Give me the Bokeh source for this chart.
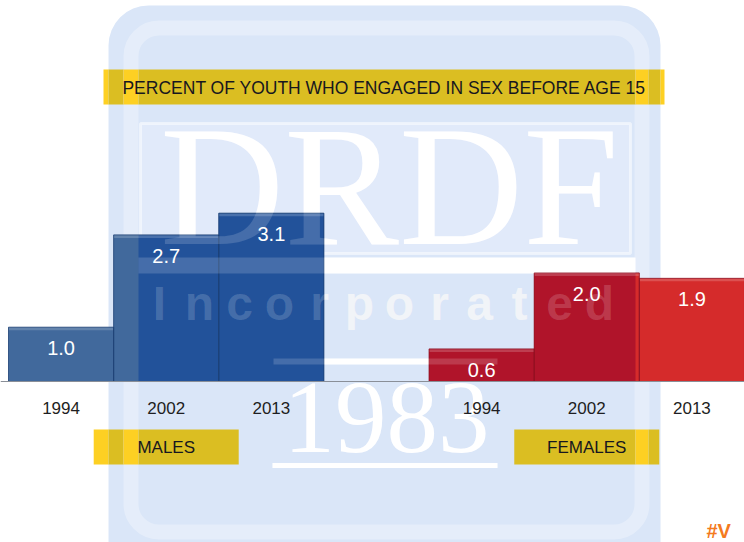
import numpy as np
from bokeh.plotting import figure
from bokeh.models import Range1d, BoxAnnotation, ColumnDataSource
from bokeh.core.properties import value
from bokeh.embed import file_html
from bokeh.resources import INLINE

# ---------------- data ----------------
years = ["1994", "2002", "2013"]
male_values = [1.0, 2.7, 3.1]
female_values = [0.6, 2.0, 1.9]
group_names = ["MALES", "FEMALES"]
title_text = "PERCENT OF YOUTH WHO ENGAGED IN SEX BEFORE AGE 15"
watermark_word = "DRDF"
watermark_sub = "Incorporated"
watermark_year = "1983"
corner_tag = "#V"

# ---------------- layout (page pixels) ----------------
W, H = 744, 542
ORIGIN_X = 8          # page x of the left edge of the first bar slot
SLOT_PX = 105.14      # width of one bar slot
UNIT_PX = 54.3        # pixels per 1 percent
BASE_PX = 381         # page y of the zero line
GAP_SLOTS = 1         # empty slot between the groups
BEVEL_PX = 3          # lighter rim at the top of each bar

FONT = value("Liberation Sans")
SERIF = value("Liberation Serif")

x_start = -ORIGIN_X / SLOT_PX
x_end = (W - ORIGIN_X) / SLOT_PX
y_top = BASE_PX / UNIT_PX
y_bot = -(H - BASE_PX) / UNIT_PX

p = figure(width=W, height=H, x_range=Range1d(x_start, x_end), y_range=Range1d(y_bot, y_top),
           output_backend="svg", toolbar_location=None, x_axis_type=None, y_axis_type=None,
           min_border=0, outline_line_color=None, background_fill_color="white",
           border_fill_color="white")
p.extra_x_ranges = {"px": Range1d(0, W)}
p.extra_y_ranges = {"py": Range1d(H, 0)}
PX = dict(x_range_name="px", y_range_name="py")

def to_px(x):
    return ORIGIN_X + x * SLOT_PX

def to_data(px):
    return (px - ORIGIN_X) / SLOT_PX

# ---------------- watermark (background part) ----------------
WM_BG = "#dae6f8"
p.add_layout(BoxAnnotation(left=108, right=660, top=5, bottom=600, fill_color=WM_BG, fill_alpha=1,
                           line_color=None, border_radius=40, level="underlay", **PX))
p.add_layout(BoxAnnotation(left=130.5, right=641.5, top=27.5, bottom=531.5, fill_alpha=0,
                           line_color="white", line_width=15, border_radius=28,
                           level="underlay", **PX))

p.quad(left=[140], right=[630], top=[123], bottom=[253], fill_color="#e1eafa",
       line_color="white", line_alpha=0.5, line_width=3, **PX)

def draw_watermark(alpha, sub_color):
    p.text(x=[389], y=[185], text=[watermark_word], text_font=SERIF, text_font_size="172px",
           text_color="white", text_alpha=alpha, text_align="center",
           text_baseline="middle", **PX)
    p.quad(left=[138], right=[635], top=[257], bottom=[273], fill_color="white",
           fill_alpha=alpha, line_color=None, **PX)
    letters = list(watermark_sub)
    lx = 159 + 40 * np.arange(len(letters))
    p.text(x=lx, y=[303] * len(letters), text=letters, text_font=FONT, text_font_style="bold",
           text_font_size="48px", text_color=sub_color, text_alpha=alpha, text_align="center",
           text_baseline="middle", **PX)
    p.segment(x0=[273, 272], y0=[361, 465], x1=[497, 497], y1=[361, 465],
              line_color="white", line_width=[6, 5], line_alpha=alpha, **PX)
    p.text(x=[386], y=[417], text=[watermark_year], text_font=SERIF, text_font_size="103px",
           text_color="white", text_alpha=alpha, text_align="center",
           text_baseline="middle", **PX)

draw_watermark(1.0, "#eff2f7")

# ---------------- bars ----------------
male_slots = np.arange(len(years))
female_slots = np.arange(len(years)) + len(years) + GAP_SLOTS
xs = np.concatenate([male_slots, female_slots]) + 0.5
tops = np.array(male_values + female_values)
labels = [f"{v:.1f}" for v in tops]
ticks = years + years

MALE_TRUE, MALE_DARK, MALE_EDGE = "#41699c", "#22529a", "#1a3f73"
FEM_TRUE, FEM_DARK, FEM_EDGE = "#d52b2b", "#b0142a", "#8e0f20"
n = len(years)
true_cols = [MALE_TRUE] * n + [FEM_TRUE] * n
dark_cols = [MALE_DARK] * n + [FEM_DARK] * n
edge_cols = [MALE_EDGE] * n + [FEM_EDGE] * n

src = ColumnDataSource(dict(x=xs, top=tops, label=labels, tick=ticks,
                            fill=true_cols, edge=edge_cols,
                            bevel=tops - BEVEL_PX / UNIT_PX))
p.vbar(x="x", top="top", bottom=0, width=1.0, fill_color="fill", line_color=None, source=src)

# darker part of each bar inside the watermark's inner field
z0, z1 = to_data(138), to_data(635)
left = np.maximum(xs - 0.5, z0)
right = np.minimum(xs + 0.5, z1)
keep = right > left
p.quad(left=left[keep], right=right[keep], bottom=0, top=tops[keep],
       fill_color=[c for c, k in zip(dark_cols, keep) if k], line_color=None)

# lighter bevel rim along each bar top
p.vbar(x="x", top="top", bottom="bevel", width=1.0, fill_color="white", fill_alpha=0.18,
       line_color=None, source=src)

p.vbar(x="x", top="top", bottom=0, width=1.0, fill_alpha=0, line_color="edge",
       line_alpha=0.8, line_width=1, source=src)

# watermark light parts showing faintly through the bars
draw_watermark(0.16, "white")

# zero line
p.segment(x0=[x_start], y0=[0], x1=[x_end], y1=[0], line_color="#8a8f98", line_width=1)

# value labels and year labels
p.text(x="x", y="top", text="label", source=src, y_offset=21, text_align="center",
       text_baseline="middle", text_color="white", text_font=FONT, text_font_size="20px")
p.text(x="x", y=0, text="tick", source=src, y_offset=26, text_align="center",
       text_baseline="middle", text_color="#1e1e22", text_font=FONT, text_font_size="17px")

# ---------------- yellow label boxes ----------------
GOLD, BRIGHT = "#dbbe22", "#fdd023"
zones = [(-1e9, 108, BRIGHT), (108, 123, GOLD), (123, 138, BRIGHT), (138, 635, GOLD),
         (635, 648, BRIGHT), (648, 660, GOLD), (660, 1e9, BRIGHT)]

def yellow_box(l, r, t, b):
    L, R, C = [], [], []
    for a0, a1, col in zones:
        a, bb = max(l, a0), min(r, a1)
        if bb > a:
            L.append(a); R.append(bb); C.append(col)
    p.quad(left=L, right=R, top=t, bottom=b, fill_color=C, line_color=None, **PX)

yellow_box(103, 664, 69, 104)
p.text(x=[384], y=[87], text=[title_text], text_font=FONT, text_font_size="17.5px",
       text_color="#17171f", text_align="center", text_baseline="middle", **PX)

group_centers = [to_px(male_slots.mean() + 0.5), to_px(female_slots.mean() + 0.5)]
for gx in group_centers:
    yellow_box(gx - 72.5, gx + 72.5, 429, 464)
p.text(x=group_centers, y=[447, 447], text=group_names, text_font=FONT, text_font_size="17px",
       text_color="#17171f", text_align="center", text_baseline="middle", **PX)

# corner tag
p.text(x=[706], y=[530], text=[corner_tag], text_font=FONT, text_font_style="bold",
       text_font_size="20px", text_color="#f47a20", text_align="left",
       text_baseline="middle", **PX)

open("out.html", "w").write(file_html(p, INLINE))
